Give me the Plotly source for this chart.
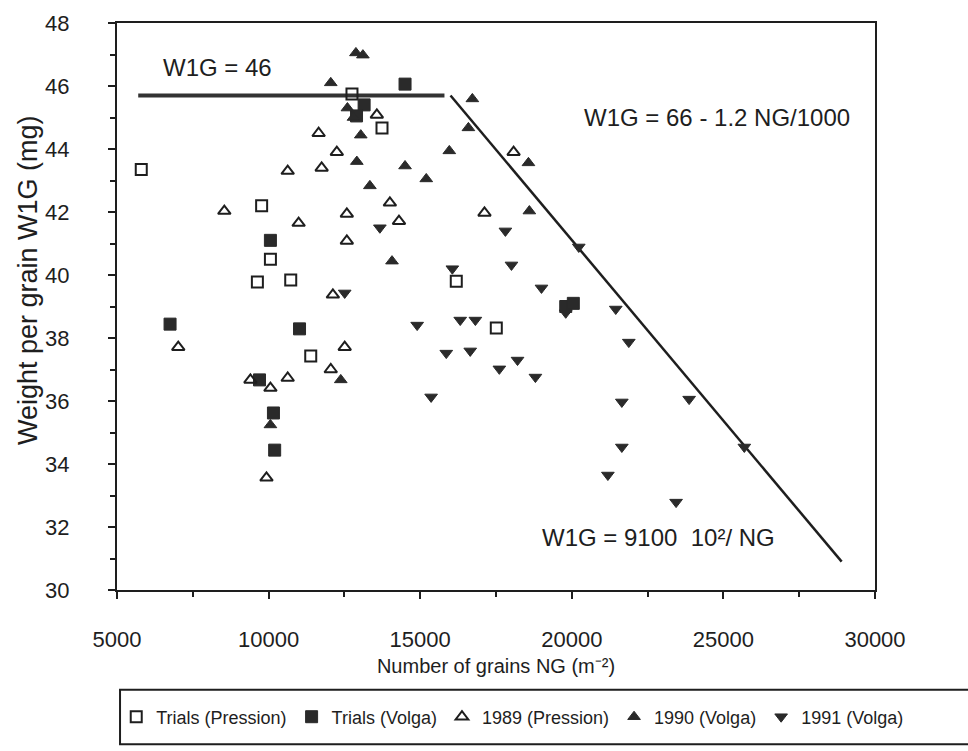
import plotly.graph_objects as go

# ---------------- data ----------------
trials_pression_ng = [5800, 12750, 13740, 9770, 10060, 9630, 10730, 11390, 16190, 17510]
trials_pression_w = [43.35, 45.75, 44.67, 42.2, 40.5, 39.78, 39.84, 37.43, 39.8, 38.32]

trials_volga_ng = [14500, 13150, 12900, 10060, 6750, 11020, 9700, 10160, 10200, 19800, 20050]
trials_volga_w = [46.06, 45.4, 45.05, 41.1, 38.44, 38.29, 36.67, 35.62, 34.44, 39.0, 39.1]

y1989_ng = [13570, 11650, 12250, 10630, 11750, 14000, 8540, 12580, 14300, 10990, 17120,
            12580, 12120, 7020, 12510, 12050, 9400, 10060, 10630, 9930, 18080]
y1989_w = [45.08, 44.5, 43.9, 43.3, 43.4, 42.29, 42.03, 41.94, 41.71, 41.65, 41.97,
           41.08, 39.37, 37.71, 37.71, 37.0, 36.67, 36.41, 36.73, 33.56, 43.9]

y1990_ng = [12880, 13110, 12050, 12600, 12800, 16720, 16590, 13040, 15960, 12910, 14500,
            15200, 13340, 14070, 18570, 18600, 12380, 10060]
y1990_w = [47.05, 46.98, 46.1, 45.3, 45.0, 45.59, 44.67, 44.44, 43.94, 43.6, 43.46,
           43.05, 42.83, 40.44, 43.56, 42.03, 36.67, 35.24]

y1991_ng = [13670, 16060, 12510, 14900, 16320, 16820, 15860, 16650, 15360, 17610, 18210,
            18800, 17810, 20230, 18010, 19000, 19800, 21450, 21880, 21650, 23870, 21650,
            25690, 21190, 23440]
y1991_w = [41.5, 40.2, 39.43, 38.41, 38.57, 38.57, 37.52, 37.59, 36.13, 37.02, 37.3,
           36.76, 41.4, 40.89, 40.32, 39.59, 38.8, 38.92, 37.87, 35.97, 36.06, 34.54,
           34.54, 33.65, 32.79]

# model lines as drawn in the figure
plateau_ng = [5700, 15800]
plateau_w = [45.7, 45.7]
slope_ng = [16000, 28900]
slope_w = [45.7, 30.9]

x_ticks = [5000, 10000, 15000, 20000, 25000, 30000]
y_ticks = [30, 32, 34, 36, 38, 40, 42, 44, 46, 48]

FONT = "Liberation Sans, Arial, sans-serif"
INK = "#1e1e1e"

fig = go.Figure()

fig.add_trace(go.Scatter(x=plateau_ng, y=plateau_w, mode="lines",
                         line=dict(color="#333333", width=4), showlegend=False, hoverinfo="skip"))
fig.add_trace(go.Scatter(x=slope_ng, y=slope_w, mode="lines",
                         line=dict(color=INK, width=2.5), showlegend=False, hoverinfo="skip"))

fig.add_trace(go.Scatter(x=trials_pression_ng, y=trials_pression_w, mode="markers",
                         name="Trials (Pression)",
                         marker=dict(symbol="square-open", size=11, color=INK,
                                     line=dict(width=2, color=INK))))
fig.add_trace(go.Scatter(x=trials_volga_ng, y=trials_volga_w, mode="markers",
                         name="Trials (Volga)",
                         marker=dict(symbol="square", size=12, color="#2a2a2a",
                                     line=dict(width=1, color="#2a2a2a"))))
fig.add_trace(go.Scatter(x=y1989_ng, y=y1989_w, mode="markers",
                         name="1989 (Pression)",
                         marker=dict(symbol="triangle-up-open", size=11, color=INK,
                                     line=dict(width=2, color=INK))))
fig.add_trace(go.Scatter(x=y1990_ng, y=y1990_w, mode="markers",
                         name="1990 (Volga)",
                         marker=dict(symbol="triangle-up", size=11, color="#2a2a2a",
                                     line=dict(width=1, color="#2a2a2a"))))
fig.add_trace(go.Scatter(x=y1991_ng, y=y1991_w, mode="markers",
                         name="1991 (Volga)",
                         marker=dict(symbol="triangle-down", size=11, color="#2a2a2a",
                                     line=dict(width=1, color="#2a2a2a"))))

annots = [
    dict(x=8300, y=46.6, text="W1G = 46"),
    dict(x=24800, y=45.0, text="W1G = 66 - 1.2 NG/1000"),
    dict(x=22850, y=31.68, text="W1G = 9100  10²/ NG"),
]
for a in annots:
    fig.add_annotation(x=a["x"], y=a["y"], text=a["text"], showarrow=False,
                       xref="x", yref="y", font=dict(size=24, color=INK, family=FONT))

# y-axis title (placed as in the original, slightly above the axis centre)
fig.add_annotation(x=-0.1174, y=0.5467, xref="paper", yref="paper",
                   text="Weight per grain W1G (mg)", textangle=-90, showarrow=False,
                   xanchor="center", yanchor="middle",
                   font=dict(size=27, color=INK, family=FONT))

# legend frame (extends past the right edge as in the original)
fig.add_shape(type="rect", xref="paper", yref="paper",
              x0=0.004, x1=1.2, y0=-0.272, y1=-0.176,
              line=dict(color=INK, width=2), fillcolor="rgba(0,0,0,0)", layer="below")

fig.update_layout(
    width=968, height=751,
    margin=dict(l=117, r=93, t=23, b=161),
    paper_bgcolor="white", plot_bgcolor="white",
    font=dict(family=FONT, color=INK, size=18),
    xaxis=dict(range=[5000, 30000], tickvals=x_ticks, ticktext=[str(v) for v in x_ticks],
               showgrid=False, zeroline=False, showline=True, linecolor=INK, linewidth=2,
               mirror=True, ticks="outside", ticklen=7, tickwidth=1.5, tickcolor=INK,
               minor=dict(dtick=2500, ticks="outside", ticklen=5, tickcolor=INK),
               tickfont=dict(size=22), ticklabelstandoff=22, automargin=False,
               title=dict(text="Number of grains NG (m⁻²)", font=dict(size=20), standoff=8)),
    yaxis=dict(range=[30, 48], tickvals=y_ticks, ticktext=[str(v) for v in y_ticks],
               showgrid=False, zeroline=False, showline=True, linecolor=INK, linewidth=2,
               mirror=True, ticks="outside", ticklen=7, tickwidth=1.5, tickcolor=INK,
               minor=dict(dtick=1, ticks="outside", ticklen=5, tickcolor=INK),
               tickfont=dict(size=22), ticklabelstandoff=34, automargin=False),
    legend=dict(orientation="h", x=-0.001, xanchor="left", y=-0.224, yanchor="middle",
                borderwidth=0, bgcolor="rgba(0,0,0,0)",
                font=dict(size=18, family=FONT), itemwidth=30, tracegroupgap=0),
)

fig.write_html("out.html")
